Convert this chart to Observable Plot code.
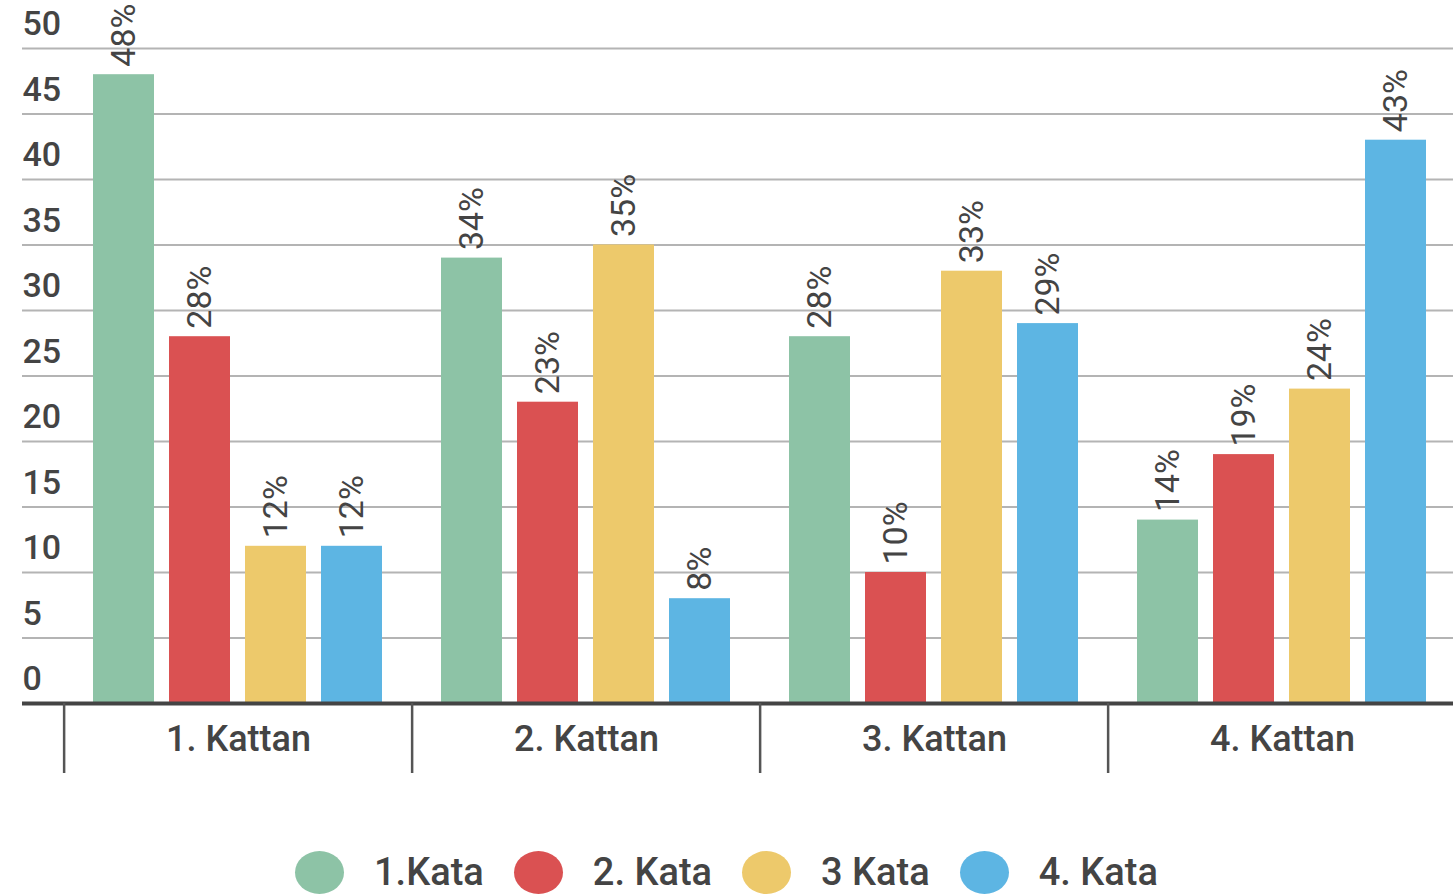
<!DOCTYPE html>
<html>
<head>
<meta charset="utf-8">
<script src="https://cdn.jsdelivr.net/npm/d3@7"></script>
<script src="https://cdn.jsdelivr.net/npm/@observablehq/plot@0.6"></script>
<style>
  html, body { margin: 0; padding: 0; background: #fff; }
  #chart svg { display: block; }
  .legend { display: flex; justify-content: center; align-items: center; margin-top: 50px;
    font-family: Roboto, sans-serif; font-size: 38px; font-weight: 500; color: #444; }
  .legend .sw { width: 49px; height: 43px; border-radius: 50%; margin-right: 30px; }
  .legend .item { display: flex; align-items: center; margin-right: 30px; }
  .legend .item:last-child { margin-right: 0; }
</style>
</head>
<body>
<div id="chart"></div>
<script>
const groups = ["1. Kattan", "2. Kattan", "3. Kattan", "4. Kattan"];
const series = ["1.Kata", "2. Kata", "3 Kata", "4. Kata"];
const kata1 = [48, 34, 28, 14];
const kata2 = [28, 23, 10, 19];
const kata3 = [12, 35, 33, 24];
const kata4 = [12, 8, 29, 43];
const colors = ["#8DC3A6", "#DA5152", "#EDC96B", "#5DB5E3"];
const yTicks = [0, 5, 10, 15, 20, 25, 30, 35, 40, 45, 50];

const seriesValues = [kata1, kata2, kata3, kata4];
const data = groups.flatMap((g, gi) => series.map((s, si) => ({group: g, series: s, value: seriesValues[si][gi]})));

const W = 1453, mL = 62, mR = -4;
const bandW = (W - mL - mR) / groups.length;

const chart = Plot.plot({
  width: W, height: 800,
  marginTop: 48, marginBottom: 97, marginLeft: mL, marginRight: mR,
  style: {fontFamily: "Roboto, sans-serif", color: "#444", background: "#fff", overflow: "hidden"},
  fx: {domain: groups, padding: 0, label: null},
  x: {domain: series, paddingInner: 0.197, paddingOuter: 0.38, axis: null},
  y: {domain: [0, 50], label: null},
  color: {domain: series, range: colors},
  marks: [
    Plot.gridY({ticks: yTicks.slice(1), stroke: "#b4b4b4", strokeOpacity: 1, strokeWidth: 2}),
    Plot.axisY({ticks: yTicks.slice(1), tickSize: 42, stroke: "#b4b4b4", strokeWidth: 2, tickFormat: () => "", label: null}),
    Plot.axisY({ticks: yTicks, tickSize: 0, tickPadding: 42, textAnchor: "start", dy: -24, fontSize: 34, fontWeight: 500, fill: "#444", label: null}),
    Plot.barY(data, {fx: "group", x: "series", y: "value", fill: "series"}),
    Plot.text(data, {fx: "group", x: "series", y: "value", text: d => d.value + "%", rotate: -90, textAnchor: "start", lineAnchor: "middle", dy: -8, fontSize: 34, fill: "#444"}),
    Plot.ruleY([0], {stroke: "#444", strokeWidth: 4}),
    Plot.axisY({ticks: [0], tickSize: 42, stroke: "#444", strokeWidth: 4, tickFormat: () => "", label: null}),
    Plot.axisFx({anchor: "bottom", tickSize: 70, dx: -bandW / 2, stroke: "#555", strokeWidth: 2.5, tickFormat: () => "", label: null}),
    Plot.axisFx({anchor: "bottom", tickSize: 0, tickPadding: 22, fontSize: 36, fontWeight: 500, fill: "#444", label: null})
  ]
});
document.getElementById("chart").appendChild(chart);

const legend = document.createElement("div");
legend.className = "legend";
series.forEach((s, i) => {
  const item = document.createElement("div");
  item.className = "item";
  const sw = document.createElement("div");
  sw.className = "sw";
  sw.style.background = colors[i];
  const lab = document.createElement("span");
  lab.textContent = s;
  item.appendChild(sw);
  item.appendChild(lab);
  legend.appendChild(item);
});
document.body.appendChild(legend);
</script>
</body>
</html>
